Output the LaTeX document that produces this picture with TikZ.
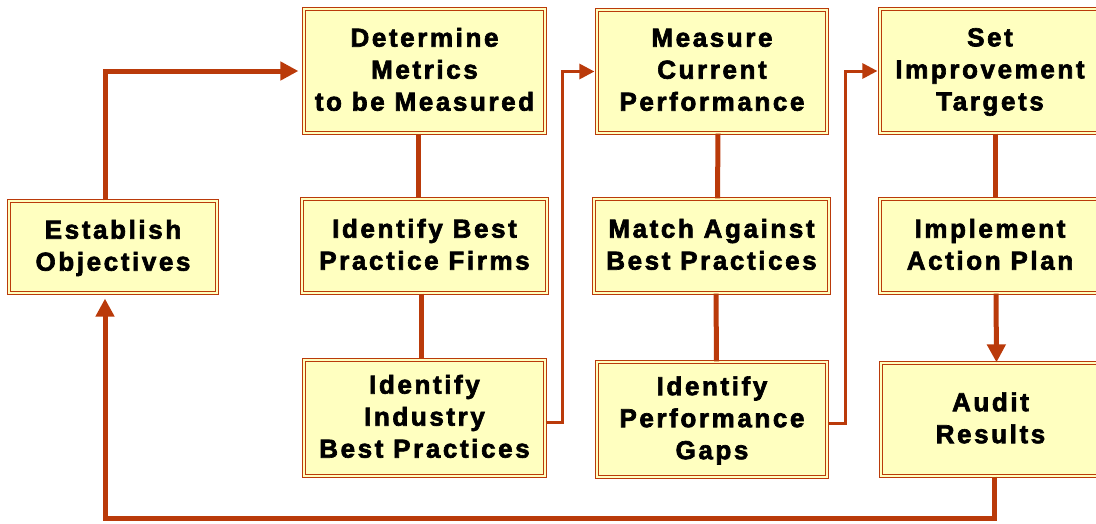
\documentclass[tikz,border=0pt]{standalone}
\usepackage{xcolor}
\usepackage{fontspec}
\setmainfont{Liberation Sans}[LetterSpace=10, BoldFeatures={FakeBold=2.5}]
\usepackage{tikz}
\usetikzlibrary{arrows.meta,positioning,calc}
\definecolor{rust}{RGB}{186,58,10}
\definecolor{paleyellow}{RGB}{255,255,192}

\begin{document}
\begin{tikzpicture}[x=1pt,y=-1pt,
		arrow/.style = {line width=5pt,draw=rust,-{Triangle[length=18pt,width=18pt]}},
		thinarrow/.style = {line width=3pt,draw=rust,-{Triangle[length=15pt,width=15pt]}},
		link/.style = {line width=5pt,draw=rust}]
		\tikzset{box/.style={draw=rust,line width=1.2pt,double=paleyellow,double distance=1.4pt,fill=paleyellow,rectangle,inner sep=0pt,align=center,text depth=3.5pt,font=\bfseries\fontsize{26}{32}\selectfont}}
		\clip (0,0) rectangle (1096,523);
		\useasboundingbox (0,0) rectangle (1096,523);

		\node[box, minimum width=208pt, minimum height=92pt] (establish) at (113,247) {Establish\\Objectives};

		\node[box, minimum width=241pt, minimum height=124pt] (metrics) at (424.5,71) {Determine\\Metrics\\to be Measured};
		\node[box, minimum width=245pt, minimum height=94pt] (firms) at (424.5,246) {Identify Best\\Practice Firms};
		\node[box, minimum width=241pt, minimum height=116pt] (industry) at (424.5,418) {Identify\\Industry\\Best Practices};

		\node[box, minimum width=230pt, minimum height=123pt] (measure) at (712,71.5) {Measure\\Current\\Performance};
		\node[box, minimum width=235pt, minimum height=94pt] (match) at (711.5,246) {Match Against\\Best Practices};
		\node[box, minimum width=230pt, minimum height=115pt] (gaps) at (712,419.5) {Identify\\Performance\\Gaps};

		\node[box, minimum width=220pt, minimum height=124pt] (targets) at (990,71) {Set\\Improvement\\Targets};
		\node[box, minimum width=220pt, minimum height=94pt] (plan) at (990,246) {Implement\\Action Plan};
		\node[box, minimum width=219pt, minimum height=113pt] (audit) at (990.5,419.5) {Audit\\Results};

		\draw [arrow, shorten >=5pt] ([xshift=-8pt]establish.north) |- (metrics.west);
		\draw [link] ([xshift=-6pt]metrics.south) -- ([xshift=-6pt]firms.north);
		\draw [link] ([xshift=-3pt]firms.south) -- ([xshift=-3pt]industry.north);
		\draw [thinarrow, shorten >=2pt] ([yshift=-4pt]industry.east) -- ++(17,0) |- (measure.west);

		\draw [link] ([xshift=6pt]measure.south) -- ([xshift=6pt]match.north);
		\draw [link] ([xshift=4.5pt]match.south) -- ([xshift=4.5pt]gaps.north);
		\draw [thinarrow, shorten >=2pt] ([yshift=-4pt]gaps.east) -- ++(18,0) |- (targets.west);

		\draw [link] ([xshift=5pt]targets.south) -- ([xshift=5pt]plan.north);
		\draw [arrow] ([xshift=6pt]plan.south) -- ([xshift=6pt]audit.north);
		\draw [arrow, shorten >=5pt] ([xshift=4pt]audit.south) -- ++(0,42) -| ([xshift=-8pt]establish.south);
	\end{tikzpicture}
\end{document}
